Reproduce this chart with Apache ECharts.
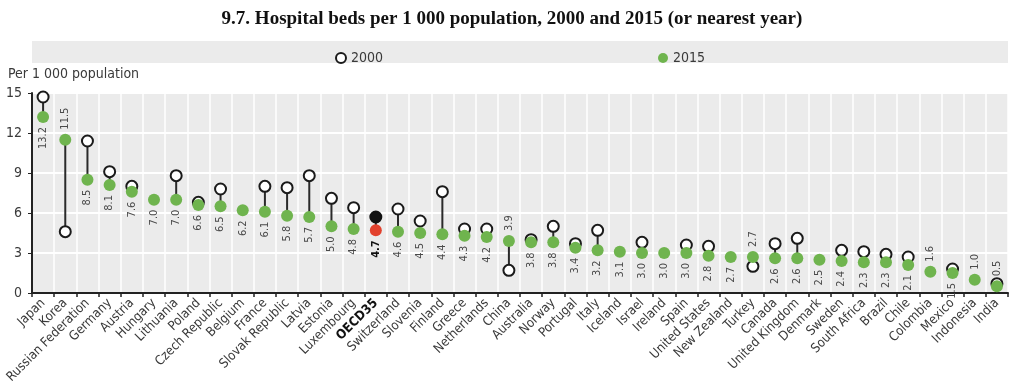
<!DOCTYPE html>
<html>
<head>
<meta charset="utf-8">
<script src="https://cdn.jsdelivr.net/npm/echarts@6/dist/echarts.min.js"></script>
<style>html,body{margin:0;padding:0;background:#fff;}#c{width:1024px;height:390px;}</style>
</head>
<body>
<div id="c"></div>
<script>
const categories = ['Japan','Korea','Russian Federation','Germany','Austria','Hungary','Lithuania','Poland','Czech Republic','Belgium','France','Slovak Republic','Latvia','Estonia','Luxembourg','OECD35','Switzerland','Slovenia','Finland','Greece','Netherlands','China','Australia','Norway','Portugal','Italy','Iceland','Israel','Ireland','Spain','United States','New Zealand','Turkey','Canada','United Kingdom','Denmark','Sweden','South Africa','Brazil','Chile','Colombia','Mexico','Indonesia','India'];
const values2000 = [14.7,4.6,11.4,9.1,8.0,null,8.8,6.8,7.8,null,8.0,7.9,8.8,7.1,6.4,5.7,6.3,5.4,7.6,4.8,4.8,1.7,4.0,5.0,3.7,4.7,null,3.8,null,3.6,3.5,null,2.0,3.7,4.1,null,3.2,3.1,2.9,2.7,null,1.8,null,0.7];
const values2015 = [13.2,11.5,8.5,8.1,7.6,7.0,7.0,6.6,6.5,6.2,6.1,5.8,5.7,5.0,4.8,4.7,4.6,4.5,4.4,4.3,4.2,3.9,3.8,3.8,3.4,3.2,3.1,3.0,3.0,3.0,2.8,2.7,2.7,2.6,2.6,2.5,2.4,2.3,2.3,2.1,1.6,1.5,1.0,0.5];
const yTicks = [0,3,6,9,12,15];
const highlight = 'OECD35';

const GREEN = '#6fb44e', RED = '#e2412d', BG = '#ebebeb', TXT = '#3a3a3a';
const NARROW = '"Liberation Sans Narrow","Arial Narrow","DejaVu Sans Condensed",sans-serif';

function labelAbove(i){
  const a = values2000[i], b = values2015[i];
  if (a != null && a < b) return true;
  if (b < 1.8 && !(a != null && a - b > 0.25)) return true;
  return false;
}

const data2015 = values2015.map((v,i)=>{
  const up = labelAbove(i);
  const item = {value: v, label: {
    position: up ? 'top' : 'bottom',
    align: up ? 'left' : 'right',
    fontWeight: categories[i]===highlight ? 'bold' : 'normal',
    color: categories[i]===highlight ? '#111' : '#4a4a4a'
  }};
  if (categories[i]===highlight) item.itemStyle = {color: RED};
  return item;
});
const data2000 = values2000.map((v,i)=>{
  if (v == null) return '-';
  if (categories[i]===highlight) return {value: v, itemStyle:{color:'#111', borderColor:'#111'}};
  return v;
});

const chart = echarts.init(document.getElementById('c'), null, {renderer:'canvas'});
chart.setOption({
  animation: false,
  title: {
    text: '9.7. Hospital beds per 1 000 population, 2000 and 2015 (or nearest year)',
    left: 'center', top: 5,
    textStyle: {fontFamily: '"Liberation Serif","DejaVu Serif",serif', fontWeight: 'bold', fontSize: 19, color: '#111'}
  },
  graphic: [
    {type:'rect', shape:{x:32, y:41, width:976, height:22}, style:{fill:BG}, z:-1}
  ],
  legend: [
    {data:[{name:'2000', icon:'circle'}], left: 330, top: 46, itemWidth: 10, itemHeight: 10, itemGap: 8,
     textStyle:{fontFamily: NARROW, fontSize: 14, color: TXT}},
    {data:[{name:'2015', icon:'circle'}], left: 653, top: 46, itemWidth: 10, itemHeight: 10, itemGap: 8,
     textStyle:{fontFamily: NARROW, fontSize: 14, color: TXT}}
  ],
  grid: {left: 32, right: 16, top: 93, bottom: 97, containLabel: false, show: true, backgroundColor: BG, borderWidth: 0},
  xAxis: {
    type: 'category', data: categories, boundaryGap: true,
    axisLine: {show: true, lineStyle: {color: '#222', width: 2}},
    axisTick: {show: true, alignWithLabel: false, length: 4, lineStyle:{color:'#222', width: 1.5}},
    splitLine: {show: true, lineStyle: {color: '#fff', width: 1.5}},
    axisLabel: {
      interval: 0, rotate: 45, margin: 8, fontFamily: NARROW, fontSize: 13, color: TXT,
      formatter: v => v===highlight ? '{b|'+v+'}' : v,
      rich: {b: {fontWeight: 'bold', color: '#111', fontFamily: NARROW, fontSize: 13}}
    }
  },
  yAxis: {
    type: 'value', min: yTicks[0], max: yTicks[yTicks.length-1], interval: 3,
    name: 'Per 1 000 population', nameLocation: 'end', nameGap: 12,
    nameTextStyle: {fontFamily: NARROW, fontSize: 14, color: TXT, align: 'left', padding: [0,0,0,-24]},
    axisLine: {show: true, lineStyle: {color: '#222', width: 2}},
    axisTick: {show: true, length: 4, lineStyle:{color:'#222'}},
    splitLine: {show: true, lineStyle: {color: '#fff', width: 2}},
    axisLabel: {fontFamily: NARROW, fontSize: 14, color: TXT, margin: 10}
  },
  series: [
    {
      type: 'custom', name: 'link', z: 2, silent: true,
      data: categories.map((c,i)=>[i, values2000[i], values2015[i]]),
      renderItem: function(params, api){
        const a = api.value(1), b = api.value(2);
        if (a == null || isNaN(a)) return null;
        const p1 = api.coord([api.value(0), a]);
        const p2 = api.coord([api.value(0), b]);
        return {type:'line', shape:{x1:p1[0], y1:p1[1], x2:p2[0], y2:p2[1]}, style:{stroke:'#2a2a2a', lineWidth:2}};
      }
    },
    {
      type: 'scatter', name: '2000', z: 3, symbol: 'circle', symbolSize: 11,
      itemStyle: {color: '#fff', borderColor: '#1a1a1a', borderWidth: 2, opacity: 1},
      data: data2000
    },
    {
      type: 'scatter', name: '2015', z: 4, symbol: 'circle', symbolSize: 12,
      itemStyle: {color: GREEN, opacity: 1},
      label: {show: true, rotate: 90, distance: 4, verticalAlign: 'middle',
        fontFamily: NARROW, fontSize: 11, color: '#4a4a4a',
        formatter: p => p.value.toFixed(1)},
      data: data2015
    }
  ]
});
</script>
</body>
</html>
